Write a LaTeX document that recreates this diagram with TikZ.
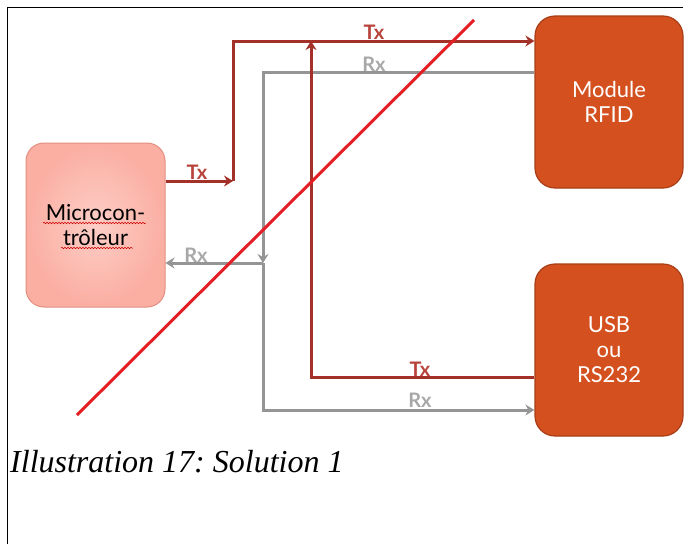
\documentclass[tikz,border=0pt]{standalone}
\usepackage{fontspec}
\setmainfont{Liberation Serif}
\newfontfamily\boxfont{Lato}
\usetikzlibrary{arrows.meta,decorations.pathmorphing}
\frenchspacing
\definecolor{boxorange}{HTML}{D4501F}
\definecolor{boxedge}{HTML}{A83E17}
\definecolor{microfill}{HTML}{FBAEA2}
\definecolor{microedge}{HTML}{E38E80}
\definecolor{txred}{HTML}{A33128}
\definecolor{txlbl}{HTML}{B8433A}
\definecolor{rxgray}{HTML}{959595}
\definecolor{rxlbl}{HTML}{A8A8A8}
\definecolor{diagred}{HTML}{E31E24}
\tikzset{
  orangebox/.style={draw=boxedge, line width=1.2pt, fill=boxorange, rounded corners=20pt,
    minimum width=148pt, minimum height=172pt, text=white, align=center,
    font=\boxfont\fontsize{22}{25}\selectfont},
  microbox/.style={draw=microedge, line width=1pt, inner color=microfill!60!white, outer color=microfill,
    rounded corners=18pt, minimum width=139pt, minimum height=164pt, text=black, align=center,
    font=\boxfont\fontsize{22}{25}\selectfont},
  tip/.style={-{Stealth[length=9pt,width=11pt,inset=3pt]}},
  txline/.style={draw=txred, line width=3pt, tip},
  rxline/.style={draw=rxgray, line width=3pt, tip},
  txlabel/.style={text=txlbl, font=\boxfont\bfseries\fontsize{20}{20}\selectfont, inner sep=0pt},
  rxlabel/.style={text=rxlbl, font=\boxfont\bfseries\fontsize{20}{20}\selectfont, inner sep=0pt},
  diagline/.style={draw=diagred, line width=3pt},
  spell/.style={draw=red!80!black, line width=0.5pt, decorate, decoration={snake, amplitude=0.8pt, segment length=3pt}}
}
\begin{document}
\begin{tikzpicture}[x=1pt,y=-1pt]
\useasboundingbox (0,0) rectangle (688,544);
\fill[white] (0,0) rectangle (688,544);
\draw[line width=1pt] (7,544) -- (7,7) -- (683,7);

\node[microbox] (micro) at (95.5,225) {Microcon-\\trôleur};
\node[orangebox] (rfid) at (609,102) {Module\\RFID};
\node[orangebox] (usb) at (609,350) {USB\\ou\\RS232};

\draw[spell] (43,223) -- (146,223);
\draw[spell] (61,248) -- (133,248);

\coordinate (c1) at (233,181);
\coordinate (c2) at (233,41);
\coordinate (r1) at (263,72);
\coordinate (r2) at (263,263);
\coordinate (r3) at (263,410);
\coordinate (t1) at (311,377);
\coordinate (t2) at (311,41);

\draw[rxline] (r1 -| rfid.west) -- (r1) -- (r2);
\draw[rxline] (r2) -- (r2 -| micro.east);
\draw[rxline] (r2) -- (r3) -- (r3 -| usb.west);
\draw[txline] (c1 -| micro.east) -- (c1);
\draw[txline] (c1) -- (c2) -- (c2 -| rfid.west);
\draw[txline] (t1 -| usb.west) -- (t1) -- (t2);

\node[txlabel] (l1) at (197,172) {Tx};
\node[txlabel] (l2) at (374,32) {Tx};
\node[rxlabel] (l3) at (374,64) {Rx};
\node[rxlabel] (l4) at (196,255) {Rx};
\node[txlabel] (l5) at (420,369) {Tx};
\node[rxlabel] (l6) at (420,400) {Rx};

\coordinate (d1) at (77,415);
\coordinate (d2) at (474,20);
\draw[diagline] (d1) -- (d2);

\node[anchor=base west, inner sep=0pt, font=\itshape\fontsize{32}{32}\selectfont] (cap) at (10,472) {Illustration 17: Solution 1};
\end{tikzpicture}
\end{document}
